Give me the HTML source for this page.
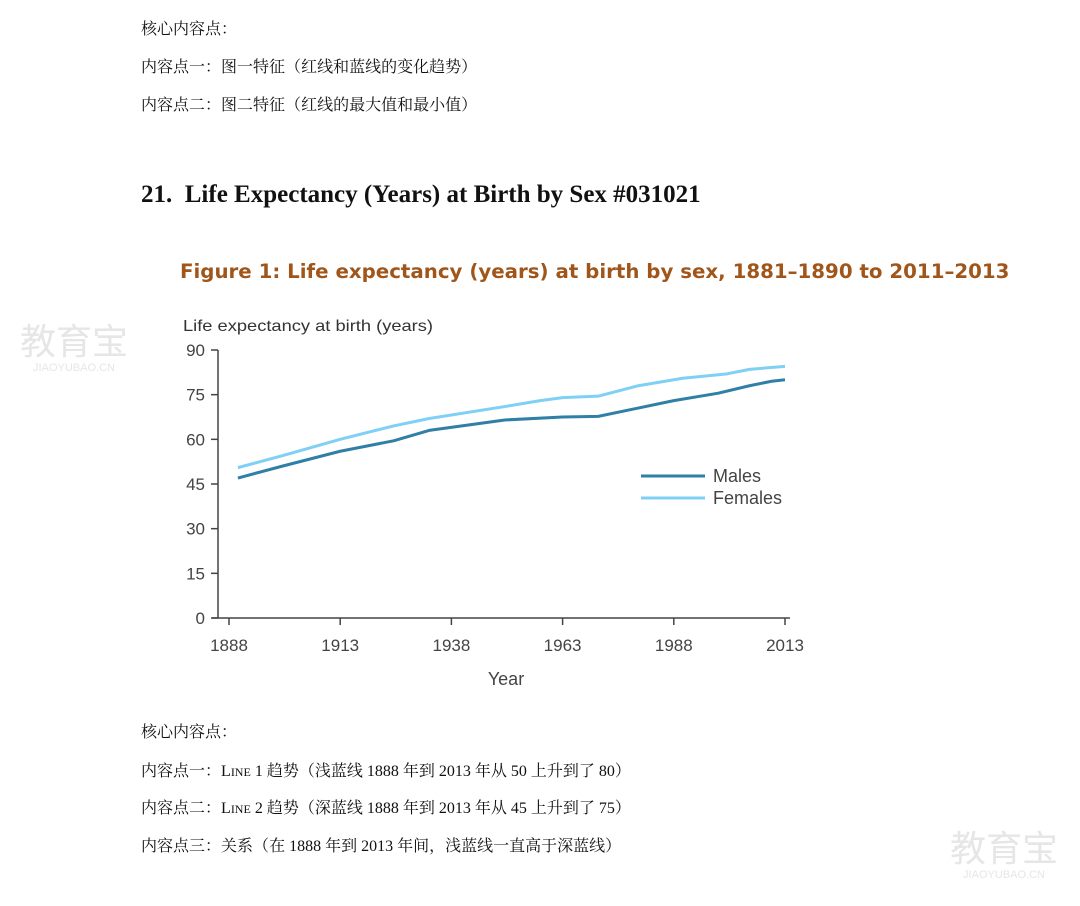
<!DOCTYPE html>
<html><head><meta charset="utf-8"><style>
body{margin:0;background:#fff;width:1080px;height:906px;overflow:hidden;position:relative;font-family:"Liberation Serif","Noto Serif CJK SC",serif;}
.t{position:absolute;left:141px;font-size:16px;color:#111;white-space:nowrap;line-height:20px;}
.c{font-family:"Noto Serif CJK SC",serif;}
.wm{position:absolute;color:#e6e6e6;font-family:"Liberation Sans","Noto Sans CJK SC",sans-serif;text-align:center;}
</style></head><body>
<div class="t" style="top:18px">核心内容点<span class="c">：</span></div>
<div class="t" style="top:56px">内容点一<span class="c">：</span>图一特征<span class="c">（</span>红线和蓝线的变化趋势<span class="c">）</span></div>
<div class="t" style="top:94px">内容点二<span class="c">：</span>图二特征<span class="c">（</span>红线的最大值和最小值<span class="c">）</span></div>
<div class="t" style="top:181px;font-size:25px;font-weight:bold;line-height:28px">21.&nbsp; Life Expectancy (Years) at Birth by Sex #031021</div>
<div class="t" style="top:259px;left:180px;font-family:'DejaVu Sans',sans-serif;font-weight:bold;font-size:19.8px;color:#a0561a;line-height:26px">Figure 1: Life expectancy (years) at birth by sex, 1881–1890 to 2011–2013</div>
<div class="wm" style="left:14px;top:322px;width:120px"><div style="font-size:36px;line-height:40px">教育宝</div><div style="font-size:11px;line-height:12px">JIAOYUBAO.CN</div></div>
<div class="wm" style="left:944px;top:829px;width:120px"><div style="font-size:36px;line-height:40px">教育宝</div><div style="font-size:11px;line-height:12px">JIAOYUBAO.CN</div></div>
<svg id="chart" width="1080" height="906" style="position:absolute;left:0;top:0" font-family="Liberation Sans, sans-serif"></svg>
<div class="t" style="top:721px">核心内容点<span class="c">：</span></div>
<div class="t" style="top:760px">内容点一<span class="c">：</span>L<span style="font-size:12px">INE</span> 1 趋势<span class="c">（</span>浅蓝线 1888 年到 2013 年从 50 上升到了 80<span class="c">）</span></div>
<div class="t" style="top:797px">内容点二<span class="c">：</span>L<span style="font-size:12px">INE</span> 2 趋势<span class="c">（</span>深蓝线 1888 年到 2013 年从 45 上升到了 75<span class="c">）</span></div>
<div class="t" style="top:835px">内容点三<span class="c">：</span>关系<span class="c">（</span>在 1888 年到 2013 年间<span class="c">，</span>浅蓝线一直高于深蓝线<span class="c">）</span></div>
<script>
const maleYears=[1890,1900,1913,1925,1933,1950,1963,1971,1980,1988,1998,2005,2010,2013];
const maleValues=[47,51,56,59.5,63,66.5,67.5,67.7,70.5,73,75.5,78,79.5,80];
const femaleYears=[1890,1900,1913,1925,1933,1950,1958,1963,1971,1980,1990,2000,2005,2013];
const femaleValues=[50.5,54.5,60,64.5,67,71,73,74,74.5,78,80.5,82,83.5,84.5];
const yTicks=[0,15,30,45,60,75,90];
const xTicks=[1888,1913,1938,1963,1988,2013];
const svg=document.getElementById('chart');
const NS='http://www.w3.org/2000/svg';
const X0=218,Y0=618,YTOP=350;
function xs(y){return 229+(y-1888)*(785-229)/125;}
function ys(v){return Y0-v*(Y0-YTOP)/90;}
function mk(tag,attrs,parent){const e=document.createElementNS(NS,tag);for(const k in attrs)e.setAttribute(k,attrs[k]);(parent||svg).appendChild(e);return e;}
let e;
e=mk('text',{x:183,y:331,'font-size':16,fill:'#333',textLength:250,lengthAdjust:'spacingAndGlyphs'});e.textContent='Life expectancy at birth (years)';


e=mk('line',{x1:X0,y1:YTOP,x2:X0,y2:Y0,stroke:'#444','stroke-width':1.5});


e=mk('line',{x1:X0-6,y1:Y0,x2:790,y2:Y0,stroke:'#444','stroke-width':1.5});


yTicks.forEach(v=>{
  mk('line',{x1:X0-7,y1:ys(v),x2:X0,y2:ys(v),stroke:'#444','stroke-width':1.5});
  const t=mk('text',{x:X0-13,y:ys(v)+6,'font-size':17,fill:'#444','text-anchor':'end'});t.textContent=v;
  
  
});
xTicks.forEach(v=>{
  mk('line',{x1:xs(v),y1:Y0,x2:xs(v),y2:Y0+7,stroke:'#444','stroke-width':1.5});
  const t=mk('text',{x:xs(v),y:651,'font-size':17,fill:'#444','text-anchor':'middle'});t.textContent=v;
  
  
});
e=mk('text',{x:506,y:685,'font-size':18,fill:'#444','text-anchor':'middle'});e.textContent='Year';


function line(yrs,vals,color,name){
  const p=mk('polyline',{points:yrs.map((y,i)=>xs(y)+','+ys(vals[i])).join(' '),fill:'none',stroke:color,'stroke-width':3,'stroke-linejoin':'round'});
  
  
}
line(femaleYears,femaleValues,'#7fd0f5','females-line');
line(maleYears,maleValues,'#2f7fa6','males-line');
e=mk('line',{x1:641,y1:476,x2:705,y2:476,stroke:'#2f7fa6','stroke-width':3});


e=mk('text',{x:713,y:482,'font-size':18,fill:'#444'});e.textContent='Males';


e=mk('line',{x1:641,y1:498,x2:705,y2:498,stroke:'#7fd0f5','stroke-width':3});


e=mk('text',{x:713,y:504,'font-size':18,fill:'#444'});e.textContent='Females';


</script>
</body></html>
